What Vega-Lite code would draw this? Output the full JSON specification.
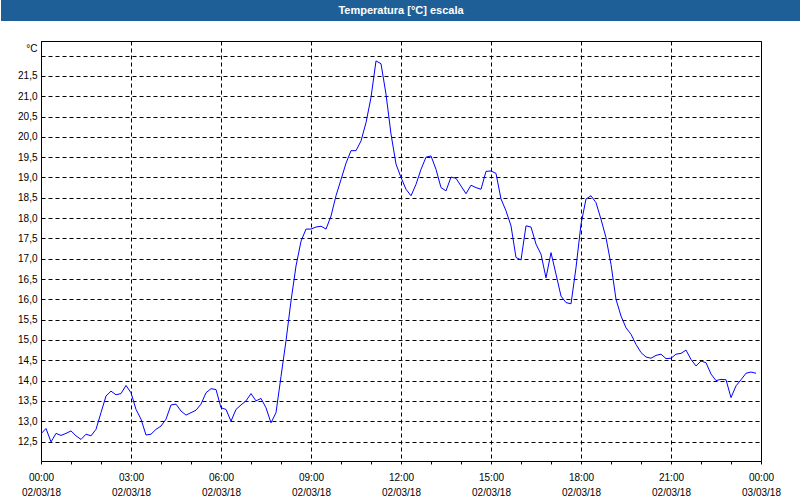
{
  "$schema": "https://vega.github.io/schema/vega-lite/v6.json",
  "padding": 0,
  "background": "white",
  "spacing": 19,
  "config": {"font": "Liberation Sans", "view": {"stroke": null}},
  "vconcat": [
    {
      "width": 760,
      "height": 21,
      "view": {"fill": "#1e5f97", "stroke": null},
      "data": {"values": [{"label": "Temperatura [°C] escala"}]},
      "mark": {"type": "text", "color": "white", "fontWeight": "bold", "fontSize": 11, "font": "Liberation Sans", "baseline": "middle", "align": "center", "dx": -20},
      "encoding": {
        "text": {"field": "label", "type": "nominal"},
        "y": {
          "field": "label",
          "type": "nominal",
          "axis": {"title": null, "labels": false, "ticks": false, "grid": false, "domain": true, "domainColor": "#1e5f97", "domainWidth": 80, "domainCap": "butt", "translate": 0}
        }
      }
    },
    {
      "width": 720,
      "height": 420,
      "view": {"fill": "white", "stroke": "black", "strokeWidth": 1},
      "data": {"values": [
        {"t": "2018-03-02T00:00:00", "v": 12.69},
        {"t": "2018-03-02T00:10:00", "v": 12.82},
        {"t": "2018-03-02T00:20:00", "v": 12.49},
        {"t": "2018-03-02T00:30:00", "v": 12.70},
        {"t": "2018-03-02T00:40:00", "v": 12.65},
        {"t": "2018-03-02T00:50:00", "v": 12.70},
        {"t": "2018-03-02T01:00:00", "v": 12.76},
        {"t": "2018-03-02T01:10:00", "v": 12.64},
        {"t": "2018-03-02T01:20:00", "v": 12.55},
        {"t": "2018-03-02T01:30:00", "v": 12.68},
        {"t": "2018-03-02T01:40:00", "v": 12.64},
        {"t": "2018-03-02T01:50:00", "v": 12.80},
        {"t": "2018-03-02T02:00:00", "v": 13.21},
        {"t": "2018-03-02T02:10:00", "v": 13.62},
        {"t": "2018-03-02T02:20:00", "v": 13.74},
        {"t": "2018-03-02T02:30:00", "v": 13.65},
        {"t": "2018-03-02T02:40:00", "v": 13.68},
        {"t": "2018-03-02T02:50:00", "v": 13.88},
        {"t": "2018-03-02T03:00:00", "v": 13.70},
        {"t": "2018-03-02T03:10:00", "v": 13.29},
        {"t": "2018-03-02T03:20:00", "v": 13.05},
        {"t": "2018-03-02T03:30:00", "v": 12.66},
        {"t": "2018-03-02T03:40:00", "v": 12.68},
        {"t": "2018-03-02T03:50:00", "v": 12.80},
        {"t": "2018-03-02T04:00:00", "v": 12.88},
        {"t": "2018-03-02T04:10:00", "v": 13.05},
        {"t": "2018-03-02T04:20:00", "v": 13.40},
        {"t": "2018-03-02T04:30:00", "v": 13.42},
        {"t": "2018-03-02T04:40:00", "v": 13.25},
        {"t": "2018-03-02T04:50:00", "v": 13.15},
        {"t": "2018-03-02T05:00:00", "v": 13.21},
        {"t": "2018-03-02T05:10:00", "v": 13.27},
        {"t": "2018-03-02T05:20:00", "v": 13.42},
        {"t": "2018-03-02T05:30:00", "v": 13.70},
        {"t": "2018-03-02T05:40:00", "v": 13.80},
        {"t": "2018-03-02T05:50:00", "v": 13.78},
        {"t": "2018-03-02T06:00:00", "v": 13.33},
        {"t": "2018-03-02T06:10:00", "v": 13.29},
        {"t": "2018-03-02T06:20:00", "v": 13.00},
        {"t": "2018-03-02T06:30:00", "v": 13.29},
        {"t": "2018-03-02T06:40:00", "v": 13.40},
        {"t": "2018-03-02T06:50:00", "v": 13.50},
        {"t": "2018-03-02T07:00:00", "v": 13.68},
        {"t": "2018-03-02T07:10:00", "v": 13.50},
        {"t": "2018-03-02T07:20:00", "v": 13.56},
        {"t": "2018-03-02T07:30:00", "v": 13.33},
        {"t": "2018-03-02T07:40:00", "v": 12.96},
        {"t": "2018-03-02T07:50:00", "v": 13.21},
        {"t": "2018-03-02T08:00:00", "v": 14.10},
        {"t": "2018-03-02T08:10:00", "v": 14.98},
        {"t": "2018-03-02T08:20:00", "v": 15.96},
        {"t": "2018-03-02T08:30:00", "v": 16.82},
        {"t": "2018-03-02T08:40:00", "v": 17.43},
        {"t": "2018-03-02T08:50:00", "v": 17.73},
        {"t": "2018-03-02T09:00:00", "v": 17.73},
        {"t": "2018-03-02T09:10:00", "v": 17.78},
        {"t": "2018-03-02T09:20:00", "v": 17.80},
        {"t": "2018-03-02T09:30:00", "v": 17.73},
        {"t": "2018-03-02T09:40:00", "v": 18.05},
        {"t": "2018-03-02T09:50:00", "v": 18.55},
        {"t": "2018-03-02T10:00:00", "v": 18.95},
        {"t": "2018-03-02T10:10:00", "v": 19.35},
        {"t": "2018-03-02T10:20:00", "v": 19.66},
        {"t": "2018-03-02T10:30:00", "v": 19.66},
        {"t": "2018-03-02T10:40:00", "v": 19.90},
        {"t": "2018-03-02T10:50:00", "v": 20.35},
        {"t": "2018-03-02T11:00:00", "v": 20.97},
        {"t": "2018-03-02T11:10:00", "v": 21.87},
        {"t": "2018-03-02T11:20:00", "v": 21.80},
        {"t": "2018-03-02T11:30:00", "v": 21.05},
        {"t": "2018-03-02T11:40:00", "v": 20.07},
        {"t": "2018-03-02T11:50:00", "v": 19.33},
        {"t": "2018-03-02T12:00:00", "v": 19.00},
        {"t": "2018-03-02T12:10:00", "v": 18.71},
        {"t": "2018-03-02T12:20:00", "v": 18.55},
        {"t": "2018-03-02T12:30:00", "v": 18.83},
        {"t": "2018-03-02T12:40:00", "v": 19.20},
        {"t": "2018-03-02T12:50:00", "v": 19.50},
        {"t": "2018-03-02T13:00:00", "v": 19.53},
        {"t": "2018-03-02T13:10:00", "v": 19.20},
        {"t": "2018-03-02T13:20:00", "v": 18.75},
        {"t": "2018-03-02T13:30:00", "v": 18.67},
        {"t": "2018-03-02T13:40:00", "v": 19.01},
        {"t": "2018-03-02T13:50:00", "v": 18.98},
        {"t": "2018-03-02T14:00:00", "v": 18.79},
        {"t": "2018-03-02T14:10:00", "v": 18.60},
        {"t": "2018-03-02T14:20:00", "v": 18.81},
        {"t": "2018-03-02T14:30:00", "v": 18.75},
        {"t": "2018-03-02T14:40:00", "v": 18.71},
        {"t": "2018-03-02T14:50:00", "v": 19.15},
        {"t": "2018-03-02T15:00:00", "v": 19.16},
        {"t": "2018-03-02T15:10:00", "v": 19.10},
        {"t": "2018-03-02T15:20:00", "v": 18.47},
        {"t": "2018-03-02T15:30:00", "v": 18.18},
        {"t": "2018-03-02T15:40:00", "v": 17.81},
        {"t": "2018-03-02T15:50:00", "v": 17.03},
        {"t": "2018-03-02T16:00:00", "v": 16.97},
        {"t": "2018-03-02T16:10:00", "v": 17.81},
        {"t": "2018-03-02T16:20:00", "v": 17.78},
        {"t": "2018-03-02T16:30:00", "v": 17.36},
        {"t": "2018-03-02T16:40:00", "v": 17.11},
        {"t": "2018-03-02T16:50:00", "v": 16.53},
        {"t": "2018-03-02T17:00:00", "v": 17.15},
        {"t": "2018-03-02T17:10:00", "v": 16.62},
        {"t": "2018-03-02T17:20:00", "v": 16.08},
        {"t": "2018-03-02T17:30:00", "v": 15.92},
        {"t": "2018-03-02T17:40:00", "v": 15.89},
        {"t": "2018-03-02T17:50:00", "v": 16.78},
        {"t": "2018-03-02T18:00:00", "v": 17.85},
        {"t": "2018-03-02T18:10:00", "v": 18.47},
        {"t": "2018-03-02T18:20:00", "v": 18.55},
        {"t": "2018-03-02T18:30:00", "v": 18.38},
        {"t": "2018-03-02T18:40:00", "v": 17.97},
        {"t": "2018-03-02T18:50:00", "v": 17.52},
        {"t": "2018-03-02T19:00:00", "v": 16.86},
        {"t": "2018-03-02T19:10:00", "v": 16.00},
        {"t": "2018-03-02T19:20:00", "v": 15.59},
        {"t": "2018-03-02T19:30:00", "v": 15.30},
        {"t": "2018-03-02T19:40:00", "v": 15.14},
        {"t": "2018-03-02T19:50:00", "v": 14.89},
        {"t": "2018-03-02T20:00:00", "v": 14.69},
        {"t": "2018-03-02T20:10:00", "v": 14.58},
        {"t": "2018-03-02T20:20:00", "v": 14.55},
        {"t": "2018-03-02T20:30:00", "v": 14.62},
        {"t": "2018-03-02T20:40:00", "v": 14.65},
        {"t": "2018-03-02T20:50:00", "v": 14.54},
        {"t": "2018-03-02T21:00:00", "v": 14.55},
        {"t": "2018-03-02T21:10:00", "v": 14.65},
        {"t": "2018-03-02T21:20:00", "v": 14.67},
        {"t": "2018-03-02T21:30:00", "v": 14.75},
        {"t": "2018-03-02T21:40:00", "v": 14.52},
        {"t": "2018-03-02T21:50:00", "v": 14.36},
        {"t": "2018-03-02T22:00:00", "v": 14.48},
        {"t": "2018-03-02T22:10:00", "v": 14.44},
        {"t": "2018-03-02T22:20:00", "v": 14.16},
        {"t": "2018-03-02T22:30:00", "v": 14.00},
        {"t": "2018-03-02T22:40:00", "v": 14.03},
        {"t": "2018-03-02T22:50:00", "v": 14.02},
        {"t": "2018-03-02T23:00:00", "v": 13.58},
        {"t": "2018-03-02T23:10:00", "v": 13.87},
        {"t": "2018-03-02T23:20:00", "v": 14.02},
        {"t": "2018-03-02T23:30:00", "v": 14.18},
        {"t": "2018-03-02T23:40:00", "v": 14.21},
        {"t": "2018-03-02T23:50:00", "v": 14.18}
      ]},
      "mark": {"type": "line", "color": "#0000ff", "strokeWidth": 1, "clip": true},
      "encoding": {
        "x": {
          "field": "t",
          "type": "temporal",
          "scale": {"domain": [{"year": 2018, "month": 3, "date": 2, "hours": 0}, {"year": 2018, "month": 3, "date": 3, "hours": 0}], "nice": false},
          "axis": {
            "title": null,
            "values": [
              {"year": 2018, "month": 3, "date": 2, "hours": 0},
              {"year": 2018, "month": 3, "date": 2, "hours": 1},
              {"year": 2018, "month": 3, "date": 2, "hours": 2},
              {"year": 2018, "month": 3, "date": 2, "hours": 3},
              {"year": 2018, "month": 3, "date": 2, "hours": 4},
              {"year": 2018, "month": 3, "date": 2, "hours": 5},
              {"year": 2018, "month": 3, "date": 2, "hours": 6},
              {"year": 2018, "month": 3, "date": 2, "hours": 7},
              {"year": 2018, "month": 3, "date": 2, "hours": 8},
              {"year": 2018, "month": 3, "date": 2, "hours": 9},
              {"year": 2018, "month": 3, "date": 2, "hours": 10},
              {"year": 2018, "month": 3, "date": 2, "hours": 11},
              {"year": 2018, "month": 3, "date": 2, "hours": 12},
              {"year": 2018, "month": 3, "date": 2, "hours": 13},
              {"year": 2018, "month": 3, "date": 2, "hours": 14},
              {"year": 2018, "month": 3, "date": 2, "hours": 15},
              {"year": 2018, "month": 3, "date": 2, "hours": 16},
              {"year": 2018, "month": 3, "date": 2, "hours": 17},
              {"year": 2018, "month": 3, "date": 2, "hours": 18},
              {"year": 2018, "month": 3, "date": 2, "hours": 19},
              {"year": 2018, "month": 3, "date": 2, "hours": 20},
              {"year": 2018, "month": 3, "date": 2, "hours": 21},
              {"year": 2018, "month": 3, "date": 2, "hours": 22},
              {"year": 2018, "month": 3, "date": 2, "hours": 23},
              {"year": 2018, "month": 3, "date": 3, "hours": 0}
            ],
            "labelExpr": "hours(datum.value) % 3 == 0 ? [timeFormat(datum.value, '%H:%M'), timeFormat(datum.value, '%d/%m/%y')] : ''",
            "labelFont": "Liberation Sans",
            "labelFontSize": 10,
            "labelColor": "black",
            "labelLineHeight": 15,
            "labelBaseline": "top",
            "labelPadding": 8,
            "labelAngle": 0,
            "labelFlush": false,
            "labelOverlap": false,
            "labelBound": false,
            "domain": true,
            "domainColor": "black",
            "ticks": true,
            "tickSize": 3,
            "tickColor": "black",
            "grid": true,
            "gridColor": "black",
            "gridDash": [4, 3],
            "gridOpacity": {"condition": {"test": "hours(datum.value) % 3 == 0", "value": 1}, "value": 0}
          }
        },
        "y": {
          "field": "v",
          "type": "quantitative",
          "scale": {"domain": [12.02, 22.36], "nice": false, "zero": false},
          "axis": {
            "title": "°C",
            "titleAngle": 0,
            "titleX": -4,
            "titleY": 7,
            "titleAlign": "right",
            "titleBaseline": "middle",
            "titleFont": "Liberation Sans",
            "titleFontSize": 10,
            "titleFontWeight": "normal",
            "titleColor": "black",
            "values": [12.5, 13, 13.5, 14, 14.5, 15, 15.5, 16, 16.5, 17, 17.5, 18, 18.5, 19, 19.5, 20, 20.5, 21, 21.5, 22],
            "labelExpr": "datum.value >= 22 ? '' : replace(format(datum.value, '.1f'), '.', ',')",
            "labelFont": "Liberation Sans",
            "labelFontSize": 10,
            "labelColor": "black",
            "labelPadding": 4,
            "labelOverlap": false,
            "labelFlush": false,
            "ticks": false,
            "domain": true,
            "domainColor": "black",
            "minExtent": 40,
            "grid": true,
            "gridColor": "black",
            "gridDash": [4, 3]
          }
        }
      }
    }
  ]
}
